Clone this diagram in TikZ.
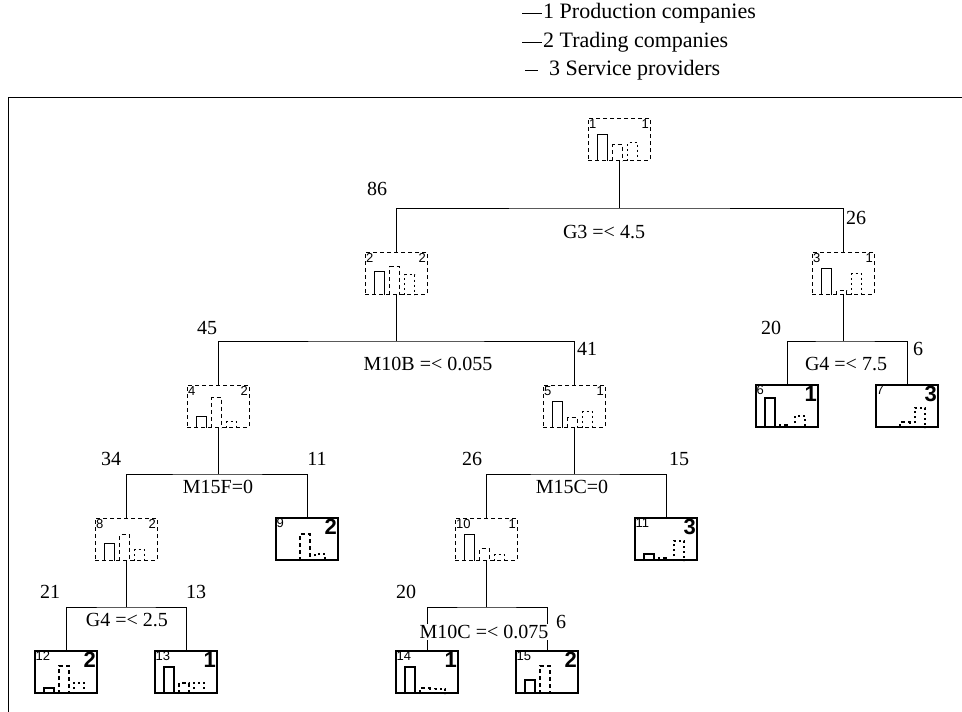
\documentclass[tikz,border=0pt]{standalone}
\usepackage{fontspec}
\setmainfont{Liberation Serif}
\setsansfont{Liberation Sans}
\usetikzlibrary{positioning}
\tikzset{
  treebox/.style = {minimum width=62pt, minimum height=42pt, inner sep=0pt,
    line width=1pt},
  tbox/.style = {treebox, draw, dash pattern=on 4pt off 3pt},% inner node
  tleaf/.style = {treebox, draw, line width=2pt},% terminal node
  idx/.style = {font=\sffamily\fontsize{13}{13}\selectfont, inner sep=1.5pt,
    anchor=north west},
  cls/.style = {font=\sffamily\fontsize{13}{13}\selectfont, inner sep=1.5pt,
    anchor=north east},
  win/.style = {font=\sffamily\bfseries\fontsize{22}{22}\selectfont,
    inner sep=2pt, anchor=north east},
  lbl/.style = {font=\fontsize{20}{20}\selectfont, inner sep=1pt},
  leg/.style = {font=\fontsize{22}{22}\selectfont, inner sep=1pt, anchor=west},
  branch/.style = {line width=1pt},
  barA/.style = {line width=1.2pt},
  barB/.style = {line width=1.2pt, dash pattern=on 4pt off 3pt},
  barC/.style = {line width=1.2pt, dash pattern=on 2pt off 3pt}
}
% histogram of the three classes in a box: node, heights
\newcommand{\bars}[4]{%
  \ifnum#2>0 \draw[barA] ([xshift=10pt]#1.south west) -- ++(0,-#2) -- ++(10,0) -- ++(0,#2);\fi
  \ifnum#3>0 \draw[barB] ([xshift=25pt]#1.south west) -- ++(0,-#3) -- ++(10,0) -- ++(0,#3);\fi
  \ifnum#4>0 \draw[barC] ([xshift=40pt]#1.south west) -- ++(0,-#4) -- ++(10,0) -- ++(0,#4);\fi
}
\begin{document}
\begin{tikzpicture}[x=1pt,y=-1pt]
\useasboundingbox (0,0) rectangle (962,712);
% legend
\node [leg] (leg1) at (542,13) {1 Production companies};
\node [leg] (leg2) at (542,42) {2 Trading companies};
\node [leg] (leg3) at (548,70) {3 Service providers};
\coordinate (l1) at (522,13);
\coordinate (l2) at (522,42);
\coordinate (l3) at (525,70);
\draw [branch] (l1) -- (leg1.west);
\draw [branch] (l2) -- (leg2.west);
\draw [branch] (l3) -- ++(13,0);
% frame
\draw [line width=1pt] (8,712) -- (8,97) -- (962,97);

% boxes
\node [tbox] (n1) at (619,139) {};
\node [tbox] (n2) at (396,273) {};
\node [tbox] (n3) at (843,273) {};
\node [tbox] (n4) at (218,406) {};
\node [tbox] (n5) at (574,406) {};
\node [tleaf] (n6) at (787,406) {};
\node [tleaf] (n7) at (907,406) {};
\node [tbox] (n8) at (126,539) {};
\node [tleaf] (n9) at (307,539) {};
\node [tbox] (n10) at (486,539) {};
\node [tleaf] (n11) at (666,539) {};
\node [tleaf] (n12) at (66,672) {};
\node [tleaf] (n13) at (186,672) {};
\node [tleaf] (n14) at (427,672) {};
\node [tleaf] (n15) at (547,672) {};

% numbers and predicted class
\foreach \i/\c in {1/1,2/2,3/1,4/2,5/1,8/2,10/1}{
  \node [idx] (i\i) at (n\i.north west) {\i};
  \node [cls] (c\i) at (n\i.north east) {\c};
}
\foreach \i/\c in {6/1,7/3,9/2,11/3,12/2,13/1,14/1,15/2}{
  \node [idx] (i\i) at (n\i.north west) {\i};
  \node [win] (c\i) at (n\i.north east) {\c};
}

% histograms
\bars{n1}{26}{16}{18}
\bars{n2}{23}{28}{20}
\bars{n3}{26}{4}{21}
\bars{n4}{11}{30}{6}
\bars{n5}{26}{10}{16}
\bars{n6}{30}{3}{12}
\bars{n7}{0}{6}{20}
\bars{n8}{17}{26}{11}
\bars{n9}{0}{27}{7}
\bars{n10}{26}{12}{6}
\bars{n11}{7}{3}{20}
\bars{n12}{6}{28}{11}
\bars{n13}{27}{11}{11}
\bars{n14}{27}{6}{5}
\bars{n15}{14}{28}{0}

% splits
\coordinate (s1) at (619,208);
\coordinate (s2) at (396,341);
\coordinate (s3) at (843,341);
\coordinate (s4) at (218,474);
\coordinate (s5) at (574,474);
\coordinate (s8) at (126,607);
\coordinate (s10) at (486,607);
\foreach \p/\a/\b in {1/2/3,2/4/5,3/6/7,4/8/9,5/10/11,8/12/13,10/14/15}{
  \draw [branch] (n\p.south) -- (s\p);
  \draw [branch] (n\a.north) |- (s\p) -| (n\b.north);
}

% rules and counts
\node [lbl] (r1) at (604,232) {G3 =< 4.5};
\node [lbl] (k2) at (377,189) {86};
\node [lbl] (k3) at (856,218) {26};
\node [lbl] (r2) at (428,364) {M10B =< 0.055};
\node [lbl] (k4) at (207,328) {45};
\node [lbl] (k5) at (587,349) {41};
\node [lbl] (r3) at (846,364) {G4 =< 7.5};
\node [lbl] (k6) at (771,328) {20};
\node [lbl] (k7) at (918,349) {6};
\node [lbl] (r4) at (218,487) {M15F=0};
\node [lbl] (k8) at (111,459) {34};
\node [lbl] (k9) at (317,459) {11};
\node [lbl] (r5) at (572,487) {M15C=0};
\node [lbl] (k10) at (472,459) {26};
\node [lbl] (k11) at (679,459) {15};
\node [lbl] (r8) at (127,620) {G4 =< 2.5};
\node [lbl] (k12) at (50,592) {21};
\node [lbl] (k13) at (196,592) {13};
\node [lbl, fill=white] (r10) at (484,632) {M10C =< 0.075};
\node [lbl] (k14) at (406,592) {20};
\node [lbl] (k15) at (561,622) {6};
\end{tikzpicture}
\end{document}
